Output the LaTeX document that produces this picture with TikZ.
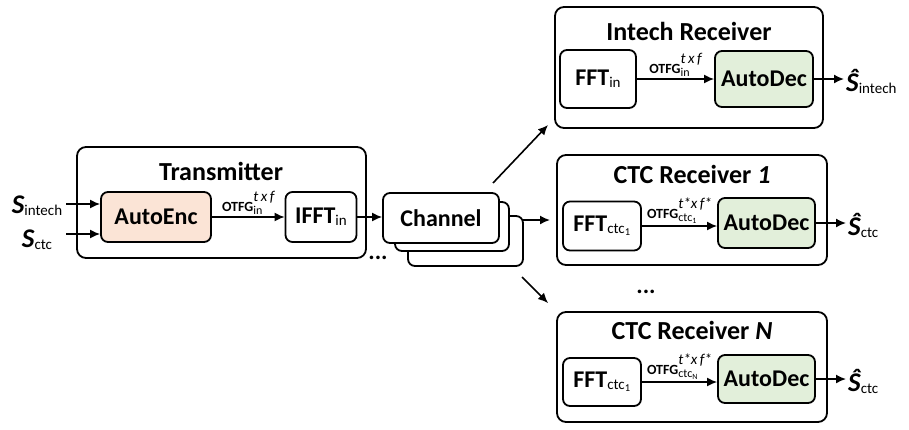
\documentclass[tikz,border=0pt]{standalone}
\usepackage{fontspec}
\setmainfont{Carlito}
\usetikzlibrary{arrows.meta}
\definecolor{encFill}{HTML}{FBE4D6}
\definecolor{decFill}{HTML}{E2EFDA}

\newcommand{\bigfont}{\fontsize{24}{26}\selectfont\bfseries}
\newcommand{\titlefont}{\fontsize{26}{28}\selectfont\bfseries}
\newcommand{\subfont}{\fontsize{15}{15}\selectfont\mdseries}
\newcommand{\lowsub}[1]{\raisebox{-2pt}{\subfont #1}}
\newcommand{\otfg}[2]{{\fontsize{14}{14}\selectfont\textbf{OTFG}\rlap{\raisebox{-3pt}{\fontsize{12}{12}\selectfont #1}}\raisebox{10pt}{\fontsize{15}{15}\selectfont\itshape #2}}}
\newcommand{\sym}[2]{{\fontsize{27}{27}\selectfont\bfseries\itshape #1}\lowsub{#2}}

\begin{document}
\begin{tikzpicture}[x=1pt, y=-1pt, >={Latex[length=10pt,width=9pt]},
    outerbox/.style={draw, line width=1.8pt, rounded corners=9pt, inner sep=0pt},
    titletext/.style={font=\titlefont, inner sep=0pt},
    blockbox/.style={draw, line width=1.8pt, rounded corners=7pt, fill=white, inner sep=0pt, font=\bigfont},
    arr/.style={->, line width=1.6pt}]

    \useasboundingbox (0,0) rectangle (909,429);

    % transmitter
    \node[outerbox, minimum width=289pt, minimum height=111pt] (tx) at (221.5,202.5) {};
    \node[titletext] (txtitle) at (221,171) {Transmitter};
    \node[blockbox, fill=encFill, minimum width=110pt, minimum height=50pt] (enc) at (156,217) {AutoEnc};
    \node[blockbox, minimum width=71pt, minimum height=50pt] (ifft) at (321,217) {IFFT\lowsub{in}};

    \node[inner sep=1pt] (sin) at (37,206) {\sym{S}{intech}};
    \node[inner sep=1pt] (sctc) at (37,240) {\sym{S}{ctc}};
    \coordinate (sinend) at (66,204);
    \coordinate (sctcend) at (66,234);
    \draw[arr] (sinend) -- (sinend -| enc.west);
    \draw[arr] (sctcend) -- (sctcend -| enc.west);
    \draw[arr] (enc.east) -- (ifft.west) node[midway, above, inner sep=0pt, yshift=1.5pt] {\otfg{in}{t\,x\,f}};

    % channel stack
    \node[blockbox, minimum width=115pt, minimum height=50pt] (ch3) at (465.5,241) {};
    \node[blockbox, minimum width=114pt, minimum height=49pt] (ch2) at (452,226.5) {};
    \node[blockbox, minimum width=116pt, minimum height=50pt] (ch1) at (441,218) {Channel};
    \draw[arr] (ifft.east) -- (ifft.east -| ch1.west);
    \node[font=\bigfont] (dotsa) at (378,258) {...};

    % links to receivers
    \coordinate (upstart) at (493,183);
    \coordinate (upend) at (548,125);
    \coordinate (midstart) at (523,220);
    \coordinate (midend) at (550,220);
    \coordinate (lowstart) at (522,277);
    \coordinate (lowend) at (548,303);
    \draw[arr] (upstart) -- (upend);
    \draw[arr] (midstart) -- (midend);
    \draw[arr] (lowstart) -- (lowend);
    \node[font=\bigfont] (dotsb) at (646,292) {...};

    % intech receiver
    \node[outerbox, minimum width=268pt, minimum height=121pt] (rxin) at (689,67.5) {};
    \node[titletext] (rxintitle) at (689,31) {Intech Receiver};
    \node[blockbox, minimum width=76pt, minimum height=58pt] (fftin) at (598,79) {FFT\lowsub{in}};
    \node[blockbox, fill=decFill, minimum width=98pt, minimum height=56pt] (decin) at (764,79) {AutoDec};
    \draw[arr] (fftin.east) -- (decin.west) node[midway, above, inner sep=0pt, yshift=1.5pt] {\otfg{in}{t\,x\,f}};
    \coordinate (outin) at (844,79);
    \draw[arr] (decin.east) -- (outin);
    \node[anchor=west, inner sep=1pt] (shatin) at (845,81) {\sym{\^S}{intech}};

    % ctc receiver 1
    \node[outerbox, minimum width=270pt, minimum height=110pt] (rxa) at (692,210) {};
    \node[titletext] (rxatitle) at (692,174) {CTC Receiver \textit{1}};
    \node[blockbox, minimum width=78pt, minimum height=49pt] (ffta) at (602,226) {FFT\lowsub{ctc\textsubscript{1}}};
    \node[blockbox, fill=decFill, minimum width=97pt, minimum height=50pt] (deca) at (766.5,223) {AutoDec};
    \draw[arr] (ffta.east) -- (ffta.east -| deca.west) node[midway, above, inner sep=0pt, yshift=1.5pt] {\otfg{ctc\textsubscript{1}}{t*x\,f*}};
    \coordinate (outa) at (846,223);
    \draw[arr] (deca.east) -- (outa);
    \node[anchor=west, inner sep=1pt] (shata) at (847,225) {\sym{\^S}{ctc}};

    % ctc receiver N
    \node[outerbox, minimum width=270pt, minimum height=110pt] (rxn) at (692,367) {};
    \node[titletext] (rxntitle) at (692,330) {CTC Receiver \textit{N}};
    \node[blockbox, minimum width=78pt, minimum height=48pt] (fftn) at (602,382) {FFT\lowsub{ctc\textsubscript{1}}};
    \node[blockbox, fill=decFill, minimum width=97pt, minimum height=48pt] (decn) at (766.5,379) {AutoDec};
    \draw[arr] (fftn.east) -- (fftn.east -| decn.west) node[midway, above, inner sep=0pt, yshift=1.5pt] {\otfg{ctc\textsubscript{N}}{t*x\,f*}};
    \coordinate (outn) at (846,379);
    \draw[arr] (decn.east) -- (outn);
    \node[anchor=west, inner sep=1pt] (shatn) at (847,381) {\sym{\^S}{ctc}};

\end{tikzpicture}
\end{document}
